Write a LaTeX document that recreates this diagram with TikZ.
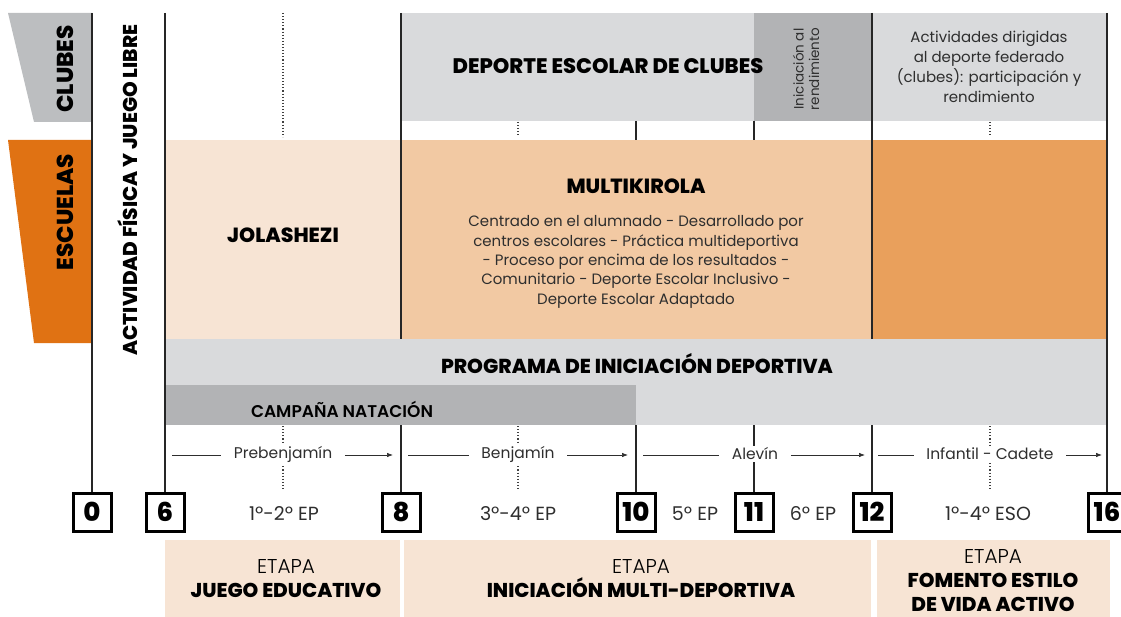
\documentclass[tikz,border=0pt]{standalone}
\usepackage{fontspec}
\setmainfont{Poppins}[BoldFont={Poppins ExtraBold}]
\newfontfamily\semibold{Poppins SemiBold}
\newfontfamily\lightfont{Poppins Light}
\usetikzlibrary{arrows.meta, positioning, calc}

\definecolor{tabgray}{HTML}{BCBEC0}
\definecolor{lightgray}{HTML}{D9DADC}
\definecolor{midgray}{HTML}{B2B3B5}
\definecolor{taborange}{HTML}{E07213}
\definecolor{peachlight}{HTML}{F7E4D4}
\definecolor{peachmid}{HTML}{F2C9A3}
\definecolor{peachdark}{HTML}{E9A05C}
\definecolor{textgray}{HTML}{2E2E2E}

\tikzset{
  bandtitle/.style={font=\fontsize{20.5}{24}\selectfont\bfseries, text=black, inner sep=0pt},
  plaintxt/.style={font=\fontsize{15}{19.3}\selectfont, text=textgray, align=center, inner sep=0pt},
  spanlabel/.style={font=\fontsize{15.5}{18}\selectfont, text=textgray, fill=white, inner sep=1.5pt},
  agebox/.style={draw, line width=3pt, fill=white, minimum size=38pt, inner sep=0pt,
    font=\fontsize{26}{26}\selectfont\bfseries},
  etapatxt/.style={font=\fontsize{20}{24}\selectfont, text=black, align=center, inner sep=0pt},
  gridline/.style={line width=1.3pt, black!85},
  dotline/.style={dotted, line width=1.1pt, black!75},
  spanline/.style={line width=0.7pt, textgray},
}

\begin{document}
\begin{tikzpicture}[x=1pt, y=-1pt]
\useasboundingbox (0,0) rectangle (1121,617);
% Side tabs
\fill[tabgray] (8,13) -- (92,13) -- (92,122) -- (34,122) -- cycle;
\fill[taborange] (8,140) -- (92,140) -- (92,343) -- (34,343) -- cycle;
\node[bandtitle, rotate=90, font=\fontsize{23}{26}\selectfont\bfseries] (clubes) at (65,69) {CLUBES};
\node[bandtitle, rotate=90, font=\fontsize{23}{26}\selectfont\bfseries] (escuelas) at (65,212) {ESCUELAS};
\node[bandtitle, rotate=90, font=\fontsize{20}{24}\selectfont\bfseries] (libre) at (128,190)
  {ACTIVIDAD FÍSICA Y JUEGO LIBRE};

% Clubes band
\fill[lightgray] (401,13) rectangle (754,121);
\fill[midgray] (754,13) rectangle (872,121);
\fill[lightgray] (872,13) rectangle (1107,121);
\node[bandtitle, font=\fontsize{21}{24}\selectfont\bfseries] (deporte) at (608,66) {DEPORTE ESCOLAR DE CLUBES};
\node[plaintxt, rotate=90, font=\fontsize{13.5}{15.5}\selectfont] (rendim) at (806,69)
  {Iniciación al\\rendimiento};
\node[plaintxt, font=\fontsize{15}{20}\selectfont] (federado) at (989,67)
  {Actividades dirigidas\\al deporte federado\\(clubes): participación y\\rendimiento};

% Escuelas band
\fill[peachlight] (165,140) rectangle (401,339);
\fill[peachmid] (401,140) rectangle (872,339);
\fill[peachdark] (872,140) rectangle (1107,339);
\node[bandtitle] (jolas) at (283,235) {JOLASHEZI};
\node[bandtitle] (multi) at (636,186) {MULTIKIROLA};
\node[plaintxt] (multitxt) at (636,262)
  {Centrado en el alumnado - Desarrollado por\\centros escolares - Práctica multideportiva\\
   - Proceso por encima de los resultados -\\Comunitario - Deporte Escolar Inclusivo -\\
   Deporte Escolar Adaptado};

% Programa band
\fill[lightgray] (165,339) rectangle (1107,425);
\fill[midgray] (165,385) rectangle (636,425);
\node[bandtitle, font=\fontsize{20.2}{24}\selectfont\bfseries] (programa) at (637,364)
  {PROGRAMA DE INICIACIÓN DEPORTIVA};
\node[font=\fontsize{17}{20}\selectfont\semibold, inner sep=0pt] (natacion) at (342,409)
  {CAMPAÑA NATACIÓN};

% Age boxes
\foreach \x/\n in {92/0, 165/6, 401/8, 636/10, 754/11, 872/12, 1107/16}
  \node[agebox] (a\n) at (\x,512) {\n};

% Grid lines
\draw[gridline] (92,13) -- (a0.north);
\draw[gridline] (165,13) -- (a6.north);
\draw[gridline] (1107,13) -- (a16.north);
\foreach \x/\n in {401/8, 872/12} {
  \draw[gridline] (\x,13) -- (\x,339);
  \draw[gridline] (\x,425) -- (a\n.north);
}
\foreach \x/\n in {636/10, 754/11} {
  \draw[gridline] (\x,121) -- (\x,140);
  \draw[gridline] (\x,425) -- (a\n.north);
}
\draw[dotline] (283,13) -- (283,137);
\draw[dotline] (518,122) -- (518,137);
\draw[dotline] (990,122) -- (990,137);
\foreach \x in {283, 518, 990}
  \draw[dotline] (\x,426) -- (\x,490);

% Age spans
\foreach \xl/\xc/\xr/\lab/\nm in {172/283/393/Prebenjamín/preb, 408/518/628/Benjamín/benj,
    643/755/865/Alevín/alev, 878/990/1102/Infantil - Cadete/infc} {
  \node[spanlabel] (\nm) at (\xc,454) {\lab};
  \coordinate (\nm-l) at (\xl,455);
  \coordinate (\nm-r) at (\xr,455);
  \draw[spanline] (\nm-l) -- ([xshift=-11pt]\nm.west |- \nm-l);
  \draw[spanline, -{Latex[length=6pt, width=4.5pt]}] ([xshift=11pt]\nm.east |- \nm-r) -- (\nm-r);
}

% Course labels
\foreach \x/\lab/\nm in {284/1º-2º EP/c12, 518/3º-4º EP/c34, 695/5º EP/c5, 813/6º EP/c6, 988/1º-4º ESO/eso}
  \node[plaintxt, font=\fontsize{19}{22}\selectfont] (\nm) at (\x,514) {\lab};

% Etapas
\fill[peachlight] (165,540) rectangle (400,617);
\fill[peachlight] (404,540) rectangle (871,617);
\fill[peachlight] (877,540) rectangle (1110,617);
\node[etapatxt] (etapa1) at (286,579)
  {{\lightfont ETAPA}\\\textbf{JUEGO EDUCATIVO}};
\node[etapatxt] (etapa2) at (641,579)
  {{\lightfont ETAPA}\\\textbf{INICIACIÓN MULTI-DEPORTIVA}};
\node[etapatxt] (etapa3) at (993,581)
  {{\lightfont ETAPA}\\\textbf{FOMENTO ESTILO}\\\textbf{DE VIDA ACTIVO}};
\end{tikzpicture}
\end{document}
